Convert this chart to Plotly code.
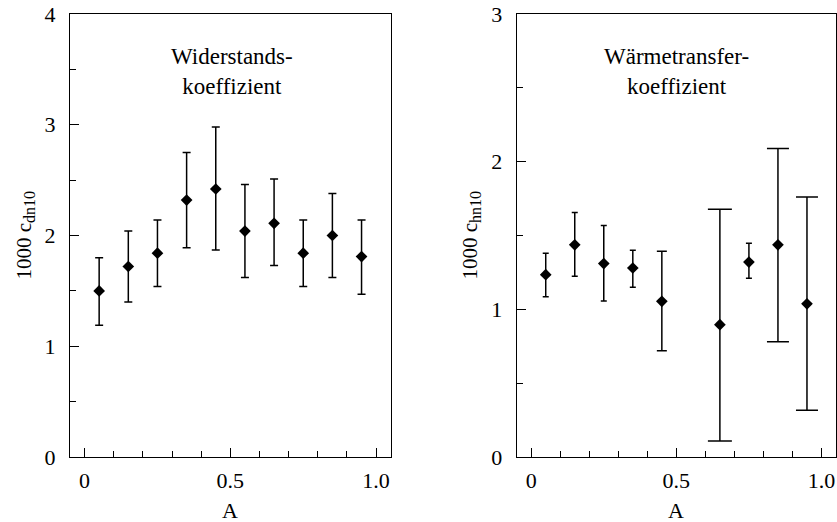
import plotly.graph_objects as go

# ---------------- data ----------------
A_left = [0.05, 0.15, 0.25, 0.35, 0.45, 0.55, 0.65, 0.75, 0.85, 0.95]
cd_val = [1.50, 1.72, 1.84, 2.32, 2.42, 2.04, 2.11, 1.84, 2.00, 1.81]
cd_hi = [1.80, 2.04, 2.14, 2.75, 2.98, 2.46, 2.51, 2.14, 2.38, 2.14]
cd_lo = [1.19, 1.40, 1.54, 1.89, 1.87, 1.62, 1.73, 1.54, 1.62, 1.47]

A_right = [0.05, 0.15, 0.25, 0.35, 0.45, 0.65, 0.75, 0.85, 0.95]
ch_val = [1.235, 1.437, 1.31, 1.28, 1.054, 0.896, 1.32, 1.437, 1.037]
ch_hi = [1.38, 1.656, 1.568, 1.40, 1.394, 1.677, 1.448, 2.09, 1.76]
ch_lo = [1.086, 1.224, 1.057, 1.15, 0.72, 0.109, 1.21, 0.78, 0.317]

x_tickvals = [0, 0.5, 1.0]
x_ticktext = ["0", "0.5", "1.0"]
left_yticks = [0, 1, 2, 3, 4]
right_yticks = [0, 1, 2, 3]

left_label = "Widerstands-<br>koeffizient"
right_label = "Wärmetransfer-<br>koeffizient"
left_ytitle = "1000 c<sub><span style='font-size:16px'>dn10</span></sub>"
right_ytitle = "1000 c<sub><span style='font-size:16px'>hn10</span></sub>"
x_title = "A"

# style: cap half-widths per point (px)
cap_left = [4] * len(A_left)
cap_right = [3, 3, 3, 3, 5, 12, 3, 11, 11]

FONT = "Liberation Serif"
W, H = 837, 522

fig = go.Figure()


def add_points(xs, ys, hi, lo, caps, xa, ya):
    for x, y, h, l, c in zip(xs, ys, hi, lo, caps):
        fig.add_trace(go.Scatter(
            x=[x], y=[y], mode="markers", xaxis=xa, yaxis=ya,
            marker=dict(symbol="diamond", size=9, color="black"),
            error_y=dict(type="data", symmetric=False, array=[h - y],
                         arrayminus=[y - l], color="black", thickness=1.5,
                         width=c),
            showlegend=False, hoverinfo="x+y"))


add_points(A_left, cd_val, cd_hi, cd_lo, cap_left, "x", "y")
add_points(A_right, ch_val, ch_hi, ch_lo, cap_right, "x2", "y2")

xcommon = dict(range=[-0.05, 1.05], tickvals=x_tickvals, ticktext=x_ticktext,
               ticks="inside", ticklen=9, tickwidth=1, tickcolor="black",
               showline=True, linecolor="black", linewidth=1, mirror=True,
               showgrid=False, zeroline=False, ticklabelstandoff=4,
               automargin=False,
               tickfont=dict(family=FONT, size=22, color="black"),
               minor=dict(dtick=0.1, tick0=0, ticks="inside", ticklen=6,
                          tickcolor="black", tickwidth=1, showgrid=False))


def ycommon(rng, tv):
    return dict(range=rng, tickvals=tv, ticktext=[str(v) for v in tv],
                ticks="inside", ticklen=9, tickwidth=1, tickcolor="black",
                showline=True, linecolor="black", linewidth=1, mirror=True,
                showgrid=False, zeroline=False, ticklabelstandoff=9,
                automargin=False,
                tickfont=dict(family=FONT, size=22, color="black"),
                minor=dict(dtick=0.5, tick0=0, ticks="inside", ticklen=6,
                           tickcolor="black", tickwidth=1, showgrid=False))


fig.update_layout(
    template="none",
    width=W, height=H,
    margin=dict(l=0, r=0, t=14, b=65),
    paper_bgcolor="white", plot_bgcolor="white",
    xaxis=dict(domain=[70 / W, 390.7 / W], anchor="y", **xcommon),
    yaxis=dict(domain=[0, 1], anchor="x", **ycommon([0, 4], left_yticks)),
    xaxis2=dict(domain=[516.7 / W, 836 / W], anchor="y2", **xcommon),
    yaxis2=dict(domain=[0, 1], anchor="x2", **ycommon([0, 3], right_yticks)),
    font=dict(family=FONT, color="black"),
)

ann = [
    dict(text=left_label, x=0.505, y=3.48, xref="x", yref="y",
         font=dict(family=FONT, size=23)),
    dict(text=right_label, x=0.5, y=2.61, xref="x2", yref="y2",
         font=dict(family=FONT, size=23)),
    dict(text=left_ytitle, x=24 / W, y=0.5, xref="paper", yref="paper",
         textangle=-90, font=dict(family=FONT, size=21)),
    dict(text=right_ytitle, x=470 / W, y=0.5, xref="paper", yref="paper",
         textangle=-90, font=dict(family=FONT, size=21)),
    dict(text=x_title, x=0.5, y=-0.12, xref="x", yref="paper",
         font=dict(family=FONT, size=22)),
    dict(text=x_title, x=0.5, y=-0.12, xref="x2", yref="paper",
         font=dict(family=FONT, size=22)),
]
for a in ann:
    a.update(showarrow=False, xanchor="center", yanchor="middle",
             align="center")
fig.update_layout(annotations=ann)

fig.write_html("out.html")
